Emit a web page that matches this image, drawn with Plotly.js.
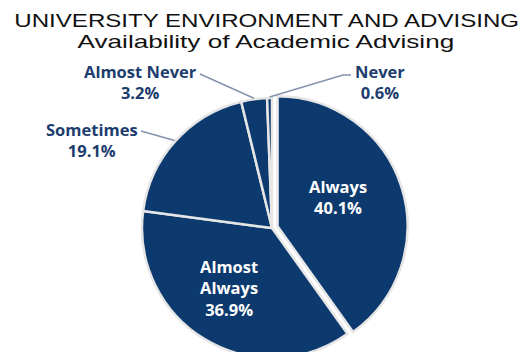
<!DOCTYPE html>
<html>
<head>
<meta charset="utf-8">
<script src="https://cdn.plot.ly/plotly-3.0.1.min.js"></script>
<style>
  html, body { margin: 0; padding: 0; background: #ffffff; overflow: hidden; width: 532px; height: 352px; }
  #chart { width: 532px; height: 400px; }
</style>
</head>
<body>
<div id="chart"></div>
<script>
// Data
const categories = ["Always", "Almost Always", "Sometimes", "Almost Never", "Never"];
const displayLabels = ["Always", "Almost<br>Always", "Sometimes", "Almost Never", "Never"];
const values = [40.1, 36.9, 19.1, 3.2, 0.6];
const insideSlices = [true, true, false, false, false];
const titleLine1 = "UNIVERSITY ENVIRONMENT AND ADVISING";
const titleLine2 = "Availability of Academic Advising";

// Layout geometry (pixels)
const W = 532, H = 400;
const cx = 272, cy = 228, R = 130;
const pullAlways = 0.045;
const Rtot = R * (1 + pullAlways);

const sliceColor = "#0c3a6f";
const labelColor = "#1d3d6e";
const leaderColor = "#8393ab";

// label centres (pixels) and leader-line start points (pixels)
const labelPos = { 0: [338, 197], 1: [229, 288], 2: [92, 140], 3: [140, 82], 4: [380, 82] };
const leaderStart = { 2: [[141, 131]], 3: [[200, 74]], 4: [[351, 75], [343, 75]] };

const pie = {
  type: "pie",
  labels: categories,
  values: values,
  sort: false,
  direction: "clockwise",
  rotation: 0,
  pull: categories.map((c, i) => i === 0 ? pullAlways : 0),
  marker: { colors: categories.map(() => sliceColor), line: { color: "#e6e6e6", width: 2.5 } },
  textinfo: "none",
  hoverinfo: "none",
  domain: {
    x: [(cx - Rtot) / W, (cx + Rtot) / W],
    y: [((H - cy) - Rtot) / H, ((H - cy) + Rtot) / H]
  },
  showlegend: false
};

const toX = px => px / W;
const toY = py => 1 - py / H;

const total = values.reduce((a, b) => a + b, 0);
const annotations = [];
const shapes = [];
let cum = 0;
values.forEach((v, i) => {
  const mid = (cum + v / 2) / total * 2 * Math.PI;
  cum += v;
  const [lx, ly] = labelPos[i];
  annotations.push({
    x: toX(lx), y: toY(ly), xref: "paper", yref: "paper", xanchor: "center", yanchor: "middle",
    showarrow: false, align: "center",
    text: displayLabels[i] + "<br>" + v.toFixed(1) + "%",
    font: { family: "Open Sans", size: 16.5, weight: 700, color: insideSlices[i] ? "#ffffff" : labelColor }
  });
  if (!insideSlices[i]) {
    const px = cx + (R + 1) * Math.sin(mid);
    const py = cy - (R + 1) * Math.cos(mid);
    const pts = leaderStart[i].concat([[px, py]]);
    const path = pts.map((p, k) => (k ? "L" : "M") + toX(p[0]).toFixed(5) + "," + toY(p[1]).toFixed(5)).join(" ");
    shapes.push({ type: "path", xref: "paper", yref: "paper", path: path, line: { color: leaderColor, width: 1.4 } });
  }
});

const titleFont = { family: "Liberation Sans, Arial", size: 18, color: "#111111" };
annotations.push({
  x: 0.5, y: toY(21.5), xref: "paper", yref: "paper", xanchor: "center", yanchor: "middle",
  showarrow: false, text: titleLine1, font: titleFont
});
annotations.push({
  x: 0.5, y: toY(42.5), xref: "paper", yref: "paper", xanchor: "center", yanchor: "middle",
  showarrow: false, text: titleLine2, font: titleFont
});

const layout = {
  width: W, height: H,
  margin: { l: 0, r: 0, t: 0, b: 0 },
  paper_bgcolor: "#ffffff",
  annotations: annotations,
  shapes: shapes,
  showlegend: false
};

// target widths of the (wide) title lines in the reference
const titleWidths = {};
titleWidths[titleLine1] = 505;
titleWidths[titleLine2] = 377;

Plotly.newPlot("chart", [pie], layout, { displayModeBar: false, staticPlot: true }).then(() => {
  document.querySelectorAll("#chart .annotation-text").forEach(t => {
    const target = titleWidths[t.textContent];
    if (!target) return;
    const w = t.getBBox().width;
    if (w > 0) {
      t.style.transformBox = "fill-box";
      t.style.transformOrigin = "center";
      t.style.transform = "scaleX(" + (target / w) + ")";
    }
  });
});
</script>
</body>
</html>
